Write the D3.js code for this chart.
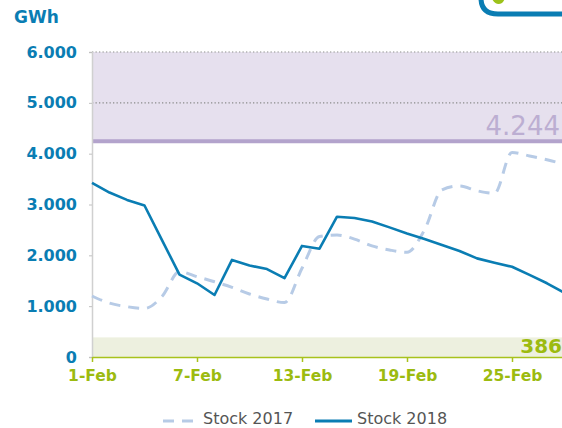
<!DOCTYPE html>
<html><head><meta charset="utf-8">
<script src="https://cdn.jsdelivr.net/npm/d3@7"></script>
<style>body{margin:0;background:#fff;overflow:hidden}svg{display:block}</style>
</head><body><svg id="c" width="562" height="428"></svg>
<script>
const days = d3.range(1, 29);
const tickDays = [1, 7, 13, 19, 25];
const tickLabels = ["1-Feb", "7-Feb", "13-Feb", "19-Feb", "25-Feb"];
const yTicks = [0, 1000, 2000, 3000, 4000, 5000, 6000];
const stock2017 = [1200,1060,990,955,1190,1680,1580,1480,1370,1240,1140,1070,1745,2370,2400,2320,2185,2105,2060,2500,3290,3365,3270,3220,4025,3955,3880,3790];
const stock2018 = [3425,3235,3090,2980,2300,1620,1450,1220,1910,1800,1730,1550,2185,2130,2760,2735,2665,2550,2430,2320,2205,2085,1940,1855,1775,1615,1450,1260];
const maxLevel = 4244, maxTop = 6000;
const minLevel = 386;
const seriesNames = ["Stock 2017", "Stock 2018"];

const svg = d3.select("#c");
const x = d3.scaleLinear().domain([1, 28]).range([92, 564.5]);
const y = d3.scaleLinear().domain([0, 6000]).range([357, 52]);
const fmt = v => v === 0 ? "0" : d3.format(",")(v).replace(/,/g, ".");

// purple band
svg.append("rect").attr("x", x(1)).attr("y", y(maxTop)).attr("width", x(28) - x(1))
  .attr("height", y(maxLevel) - y(maxTop)).attr("fill", "#e6e0ee");
// green band
svg.append("rect").attr("x", x(1)).attr("y", y(minLevel)).attr("width", x(28) - x(1))
  .attr("height", y(0) - y(minLevel)).attr("fill", "#edf0df");

// dotted gridlines
[5000, 6000].forEach(v => {
  svg.append("line").attr("x1", x(1)).attr("x2", x(28)).attr("y1", y(v)).attr("y2", y(v))
    .attr("stroke", v === 6000 ? "#b0b0b0" : "#8a8a8a").attr("stroke-width", 1.3)
    .attr("stroke-dasharray", "1.3,2.2");
});

// max line
svg.append("line").attr("x1", x(1)).attr("x2", x(28)).attr("y1", y(maxLevel)).attr("y2", y(maxLevel))
  .attr("stroke", "#b3a3cc").attr("stroke-width", 4);
svg.append("text").attr("x", 560).attr("y", 135).attr("text-anchor", "end")
  .attr("font-family", "DejaVu Sans").attr("font-size", 26).attr("fill", "#bcaed2").text(fmt(maxLevel));
svg.append("text").attr("x", 562).attr("y", 353).attr("text-anchor", "end")
  .attr("font-family", "DejaVu Sans").attr("font-weight", "bold").attr("font-size", 20).attr("fill", "#9cbb10").text(fmt(minLevel));

// y axis
const yAxis = svg.append("g").attr("transform", `translate(${x(1)},0)`)
  .call(d3.axisLeft(y).tickValues(yTicks).tickSize(3).tickPadding(12).tickFormat(fmt));
yAxis.select(".domain").attr("stroke", "#d0d0d0").attr("stroke-width", 1.5);
yAxis.selectAll(".tick line").attr("stroke", "#c0c0c0");
yAxis.selectAll("text").attr("font-family", "DejaVu Sans").attr("font-weight", "bold")
  .attr("font-size", 16).attr("fill", "#0a7db3");

// x axis
const xAxis = svg.append("g").attr("transform", `translate(0,${y(0)})`)
  .call(d3.axisBottom(x).tickValues(tickDays).tickSize(5).tickSizeOuter(0).tickPadding(8)
    .tickFormat((d, i) => tickLabels[i]));
xAxis.select(".domain").attr("stroke", "#a8c21c").attr("stroke-width", 1.5);
xAxis.selectAll(".tick line").attr("stroke", "#a8c21c").attr("stroke-width", 1.5);
xAxis.selectAll("text").attr("font-family", "DejaVu Sans").attr("font-weight", "bold")
  .attr("font-size", 15.5).attr("fill", "#9cbb10");

// lines
const line17 = d3.line().x((d, i) => x(days[i])).y(d => y(d)).curve(d3.curveMonotoneX);
const line18 = d3.line().x((d, i) => x(days[i])).y(d => y(d));
svg.append("path").datum(stock2017).attr("d", line17).attr("fill", "none")
  .attr("stroke", "#b7cbe6").attr("stroke-width", 3).attr("stroke-dasharray", "11,8");
svg.append("path").datum(stock2018).attr("d", line18).attr("fill", "none")
  .attr("stroke", "#0a7db3").attr("stroke-width", 2.6).attr("stroke-linejoin", "round");

// GWh
svg.append("text").attr("x", 14).attr("y", 23).attr("font-family", "DejaVu Sans")
  .attr("font-weight", "bold").attr("font-size", 17).attr("fill", "#0a7db3").text("GWh");

// logo fragment
svg.append("path").attr("d", "M481,-2 Q481,14 498,14 L564,14").attr("fill", "none")
  .attr("stroke", "#0a7db3").attr("stroke-width", 5);
svg.append("path").attr("d", "M492,-1 Q496,6 502,3 Q505,0 504,-1 Z").attr("fill", "#9cc21a");

// legend
const lg = svg.append("g");
lg.append("line").attr("x1", 163).attr("x2", 196).attr("y1", 421).attr("y2", 421)
  .attr("stroke", "#b7cbe6").attr("stroke-width", 3).attr("stroke-dasharray", "11,8");
lg.append("text").attr("x", 203).attr("y", 424).attr("font-family", "DejaVu Sans")
  .attr("font-size", 16).attr("fill", "#555").text(seriesNames[0]);
lg.append("line").attr("x1", 315).attr("x2", 352).attr("y1", 421).attr("y2", 421)
  .attr("stroke", "#0a7db3").attr("stroke-width", 3);
lg.append("text").attr("x", 357).attr("y", 424).attr("font-family", "DejaVu Sans")
  .attr("font-size", 16).attr("fill", "#555").text(seriesNames[1]);
</script></body></html>
